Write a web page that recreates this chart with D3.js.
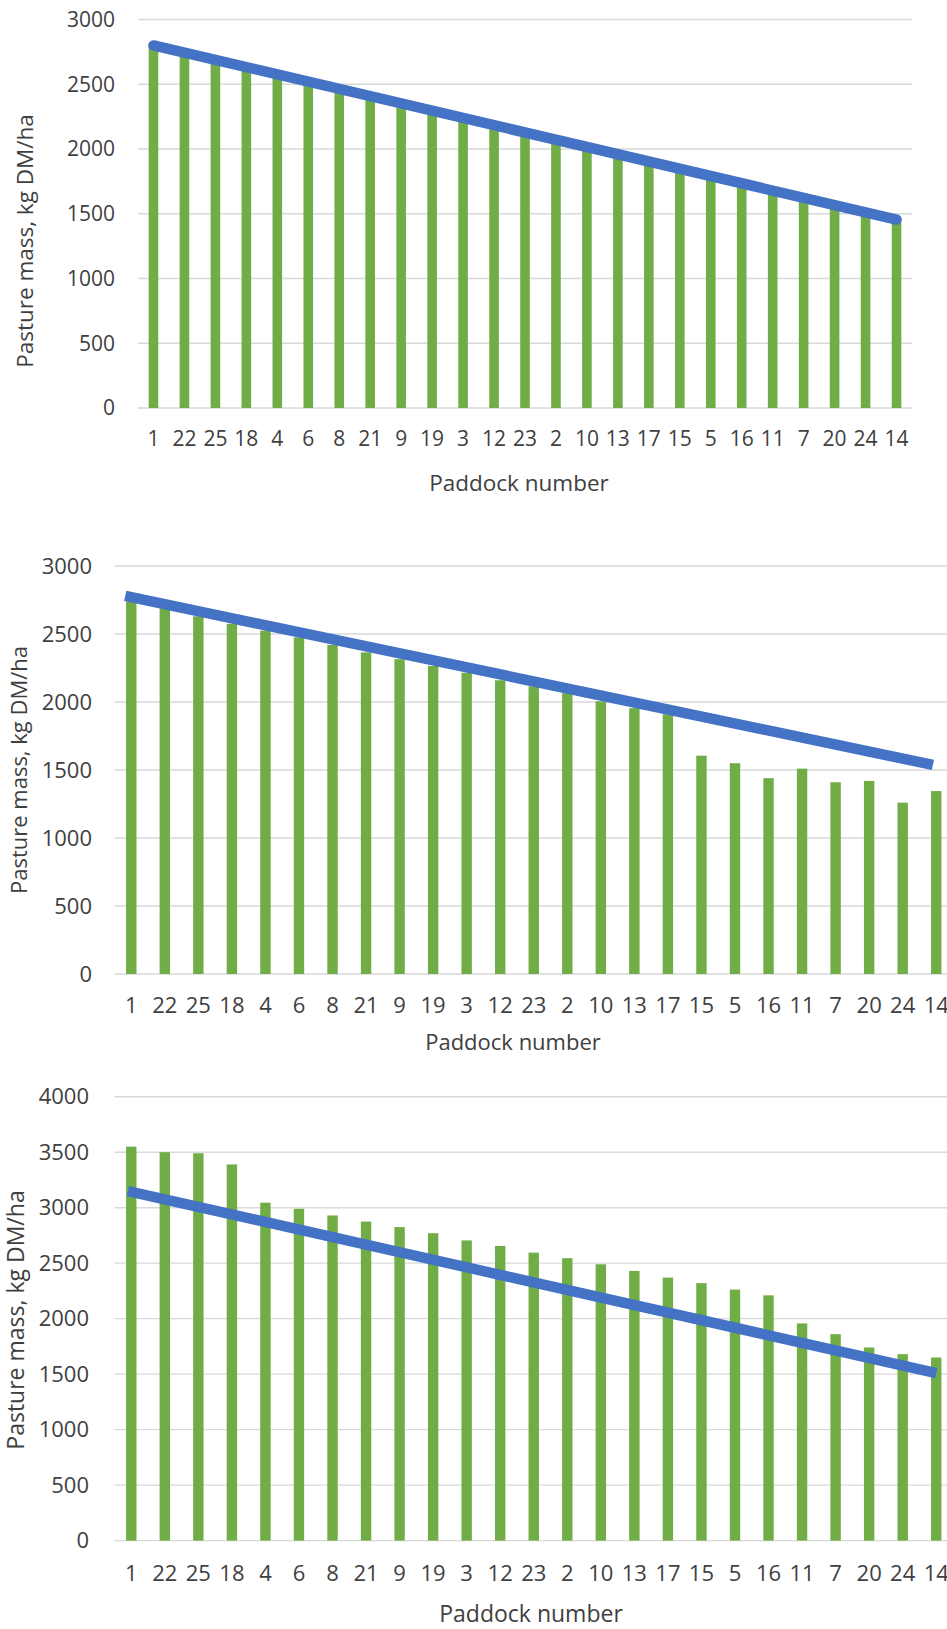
<!DOCTYPE html>
<html>
<head>
<meta charset="utf-8">
<script src="https://cdn.jsdelivr.net/npm/d3@7"></script>
<style>
  body { margin: 0; background: #fff; }
  svg { display: block; }
  text { font-family: "Open Sans", "Liberation Sans", sans-serif; fill: #404040; }
</style>
</head>
<body>
<svg id="chart" width="947" height="1629"></svg>
<script>
// paddock order (same for all three panels)
const paddocks = ["1", "22", "25", "18", "4", "6", "8", "21", "9", "19", "3", "12", "23",
    "2", "10", "13", "17", "15", "5", "16", "11", "7", "20", "24", "14"];

// pasture mass, kg DM/ha
const massTop = [2800, 2740, 2680, 2620, 2560, 2500, 2440, 2385, 2330, 2270, 2215, 2160, 2100,
    2045, 1990, 1935, 1875, 1820, 1765, 1710, 1650, 1600, 1540, 1490, 1450];
const massMid = [2740, 2690, 2630, 2575, 2525, 2475, 2420, 2365, 2315, 2265, 2215, 2160, 2115,
    2065, 2005, 1955, 1910, 1605, 1550, 1440, 1510, 1410, 1420, 1260, 1345];
const massBot = [3550, 3500, 3490, 3390, 3045, 2990, 2930, 2875, 2825, 2770, 2705, 2655, 2595,
    2545, 2490, 2430, 2370, 2320, 2262, 2210, 1957, 1860, 1740, 1680, 1650];

// target wedge line: [start, end] position (category index) and value
const lineTopAt = [0, 24], lineTopVal = [2800, 1455];
const lineMidAt = [-0.18, 23.9], lineMidVal = [2780, 1537];
const lineBotAt = [-0.1, 24], lineBotVal = [3150, 1510];

const ticks3000 = [0, 500, 1000, 1500, 2000, 2500, 3000];
const ticks4000 = [0, 500, 1000, 1500, 2000, 2500, 3000, 3500, 4000];

const svg = d3.select("#chart");

const panels = [
    { mass: massTop, lineAt: lineTopAt, lineVal: lineTopVal, ticks: ticks3000, cap: "round",
      x0: 138, x1: 912, yBottom: 408, yTop: 19.5, tickFont: 21, yLabelGap: 23, xLabelY: 439,
      xTitle: [519, 483], yTitle: [25, 241], titleFont: 22.5 },
    { mass: massMid, lineAt: lineMidAt, lineVal: lineMidVal, ticks: ticks3000, cap: "butt",
      x0: 114.5, x1: 953, yBottom: 974, yTop: 566, tickFont: 22, yLabelGap: 22.5, xLabelY: 1005,
      xTitle: [513, 1042], yTitle: [19, 770], titleFont: 22 },
    { mass: massBot, lineAt: lineBotAt, lineVal: lineBotVal, ticks: ticks4000, cap: "butt",
      x0: 114.5, x1: 953, yBottom: 1540.6, yTop: 1096.7, tickFont: 22, yLabelGap: 25.5, xLabelY: 1573,
      xTitle: [531, 1614], yTitle: [16, 1320], titleFont: 23 }
];

panels.forEach(p => {
    const g = svg.append("g");

    const x = d3.scaleBand()
        .domain(paddocks)
        .range([p.x0, p.x1])
        .paddingInner(0.69)
        .paddingOuter(0.345);

    const y = d3.scaleLinear()
        .domain([0, d3.max(p.ticks)])
        .range([p.yBottom, p.yTop]);

    // position along the categories, used by the line
    const xi = d3.scaleLinear()
        .domain([0, paddocks.length - 1])
        .range([x(paddocks[0]) + x.bandwidth() / 2, x(paddocks[paddocks.length - 1]) + x.bandwidth() / 2]);

    // gridlines
    g.selectAll(".grid")
        .data(p.ticks)
        .enter()
        .append("line")
        .attr("x1", p.x0)
        .attr("x2", p.x1)
        .attr("y1", d => y(d))
        .attr("y2", d => y(d))
        .attr("stroke", "#d9d9d9")
        .attr("stroke-width", 1.4);

    // y tick labels
    g.selectAll(".ytick")
        .data(p.ticks)
        .enter()
        .append("text")
        .attr("x", p.x0 - p.yLabelGap)
        .attr("y", d => y(d))
        .attr("dy", "0.35em")
        .attr("text-anchor", "end")
        .style("font-size", p.tickFont + "px")
        .text(d => d);

    // bars
    g.selectAll(".bar")
        .data(p.mass)
        .enter()
        .append("rect")
        .attr("x", (d, i) => x(paddocks[i]))
        .attr("y", d => y(d))
        .attr("width", x.bandwidth())
        .attr("height", d => y(0) - y(d))
        .attr("fill", "#70ad47");

    // x tick labels
    g.selectAll(".xtick")
        .data(paddocks)
        .enter()
        .append("text")
        .attr("x", d => x(d) + x.bandwidth() / 2)
        .attr("y", p.xLabelY)
        .attr("dy", "0.35em")
        .attr("text-anchor", "middle")
        .style("font-size", p.tickFont + "px")
        .text(d => d);

    // blue line
    const lineData = p.lineAt.map((a, i) => [a, p.lineVal[i]]);
    g.append("path")
        .datum(lineData)
        .attr("d", d3.line().x(d => xi(d[0])).y(d => y(d[1])))
        .attr("fill", "none")
        .attr("stroke", "#4472c4")
        .attr("stroke-width", 10.5)
        .attr("stroke-linecap", p.cap);

    // axis titles
    g.append("text")
        .attr("x", p.xTitle[0])
        .attr("y", p.xTitle[1])
        .attr("dy", "0.35em")
        .attr("text-anchor", "middle")
        .style("font-size", p.titleFont + "px")
        .text("Paddock number");

    g.append("text")
        .attr("transform", `translate(${p.yTitle[0]},${p.yTitle[1]}) rotate(-90)`)
        .attr("dy", "0.35em")
        .attr("text-anchor", "middle")
        .style("font-size", p.titleFont + "px")
        .text("Pasture mass, kg DM/ha");
});
</script>
</body>
</html>
